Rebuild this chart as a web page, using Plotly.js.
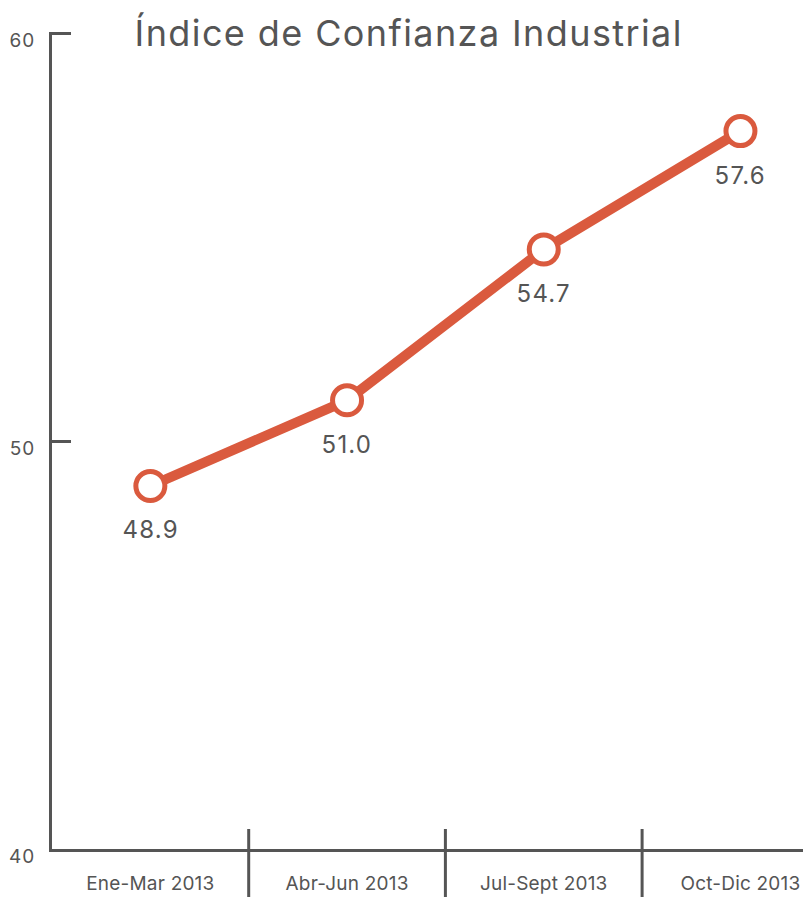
<!DOCTYPE html>
<html>
<head>
<meta charset="utf-8">
<script src="https://cdn.plot.ly/plotly-3.0.1.min.js"></script>
<style>
html,body{margin:0;padding:0;background:#fff;}
#chart{width:803px;height:897px;}
#chart .gtitle{letter-spacing:1.4px;}
#chart .xtick text{letter-spacing:0.2px;}
#chart .ytick text{letter-spacing:1px;}
#chart .annotation-text{letter-spacing:1.2px;}
</style>
</head>
<body>
<div id="chart"></div>
<script>
const categories = ["Ene-Mar 2013", "Abr-Jun 2013", "Jul-Sept 2013", "Oct-Dic 2013"];
const values = [48.9, 51.0, 54.7, 57.6];
const yTicks = [40, 50, 60];
const titleText = "Índice de Confianza Industrial";

const gray = "#555555";
const orange = "#DA5A3E";
const font = "Inter, 'Open Sans', sans-serif";

const trace = {
  x: categories,
  y: values,
  type: "scatter",
  mode: "lines+markers",
  line: {color: orange, width: 10},
  marker: {size: 29, color: "#ffffff", line: {color: orange, width: 5}},
  hoverinfo: "skip",
  cliponaxis: false
};

const annotations = categories.map((c, i) => ({
  x: c, y: values[i], xref: "x", yref: "y",
  text: values[i].toFixed(1), showarrow: false, yshift: -44,
  font: {family: font, size: 24, color: gray}
}));

const shapes = categories.slice(0, -1).map((c, i) => ({
  type: "line", xref: "x", yref: "paper",
  x0: i + 0.5, x1: i + 0.5, y0: -0.059, y1: 0.0245,
  line: {color: gray, width: 3}
}));

const layout = {
  width: 803, height: 897,
  margin: {l: 52, r: 0, t: 32, b: 48},
  paper_bgcolor: "#ffffff", plot_bgcolor: "#ffffff",
  showlegend: false,
  title: {
    text: titleText, xref: "container", yref: "container",
    x: 0.509, y: 0.963, xanchor: "center", yanchor: "middle",
    font: {family: font, size: 36, color: gray}
  },
  xaxis: {
    type: "category", range: [-0.5, 3.318],
    showline: true, linecolor: gray, linewidth: 3,
    showgrid: false, zeroline: false, ticks: "",
    ticklabelstandoff: 15,
    tickfont: {family: font, size: 19, color: gray},
    fixedrange: true
  },
  yaxis: {
    range: [40, 60.03], tickvals: yTicks,
    showline: true, linecolor: gray, linewidth: 3,
    showgrid: false, zeroline: false,
    ticks: "inside", ticklen: 19, tickwidth: 3, tickcolor: gray,
    ticklabelshift: 7, ticklabelstandoff: 10,
    tickfont: {family: font, size: 19, color: gray},
    fixedrange: true
  },
  annotations: annotations,
  shapes: shapes
};

Plotly.newPlot("chart", [trace], layout, {displayModeBar: false, staticPlot: true});
</script>
</body>
</html>
